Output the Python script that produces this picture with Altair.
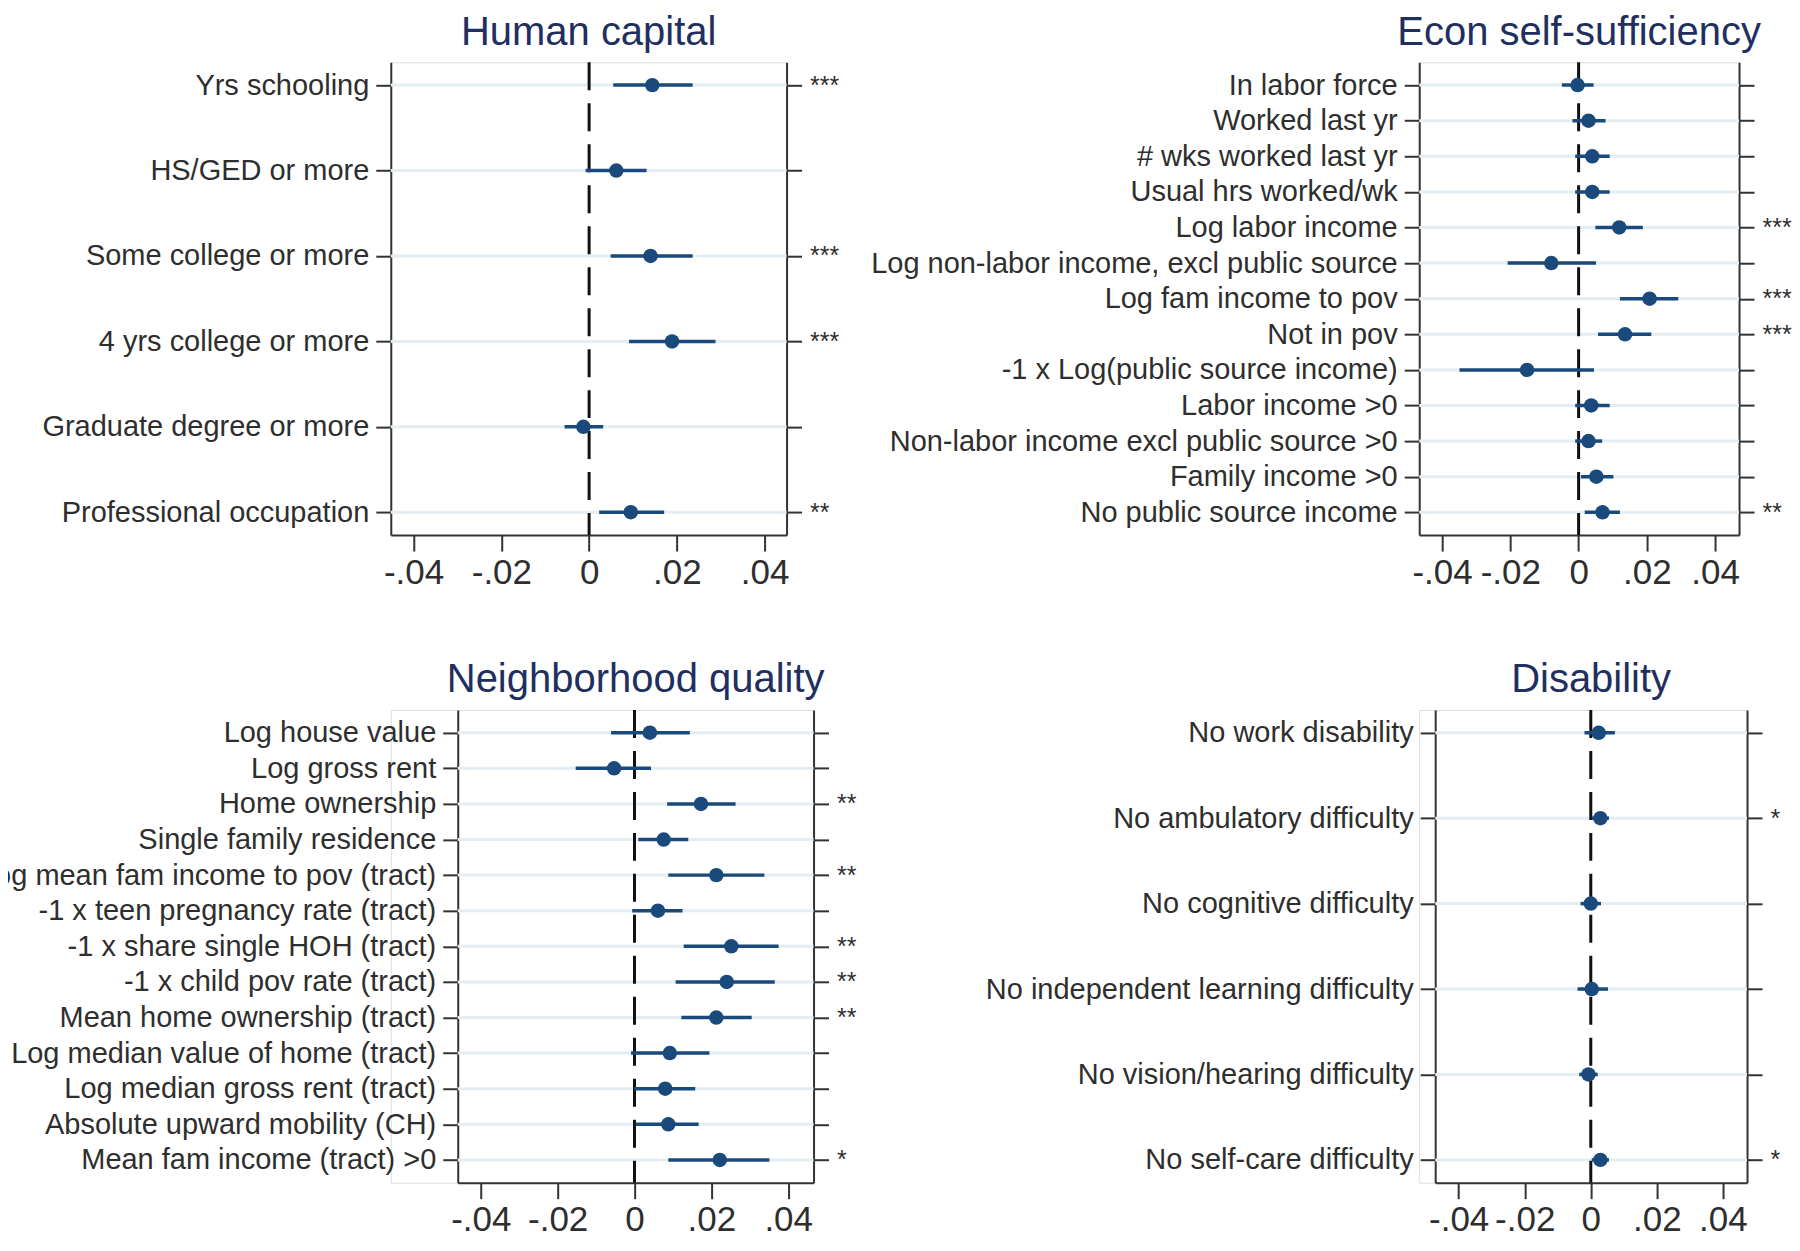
import json
import altair as alt
import pandas as pd

FONT = "Liberation Sans, Arial, Helvetica, sans-serif"
NAVY = "#1a4a7c"
TITLE_COLOR = "#1f2f5f"
TEXT = "#2e2e2e"
FRAME = "#333333"
GRID = "#e4edf1"

# ---------------- data ----------------
hc_labels = ["Yrs schooling", "HS/GED or more", "Some college or more",
             "4 yrs college or more", "Graduate degree or more", "Professional occupation"]
hc_est = [0.0144, 0.0062, 0.0140, 0.0189, -0.0013, 0.0095]
hc_lo = [0.0055, -0.0008, 0.0049, 0.0091, -0.0056, 0.0023]
hc_hi = [0.0236, 0.0131, 0.0236, 0.0288, 0.0032, 0.0171]
hc_stars = ["***", "", "***", "***", "", "**"]

ec_labels = ["In labor force", "Worked last yr", "# wks worked last yr", "Usual hrs worked/wk",
             "Log labor income", "Log non-labor income, excl public source", "Log fam income to pov",
             "Not in pov", "-1 x Log(public source income)", "Labor income >0",
             "Non-labor income excl public source >0", "Family income >0", "No public source income"]
ec_est = [-0.0003, 0.0029, 0.0040, 0.0040, 0.0119, -0.0080, 0.0208, 0.0136, -0.0151, 0.0037, 0.0029, 0.0052, 0.0070]
ec_lo = [-0.0049, -0.0018, -0.0010, -0.0010, 0.0049, -0.0208, 0.0121, 0.0057, -0.0349, -0.0010, -0.0010, 0.0007, 0.0018]
ec_hi = [0.0044, 0.0079, 0.0091, 0.0091, 0.0188, 0.0051, 0.0292, 0.0213, 0.0045, 0.0091, 0.0069, 0.0102, 0.0121]
ec_stars = ["", "", "", "", "***", "", "***", "***", "", "", "", "", "**"]

nq_labels = ["Log house value", "Log gross rent", "Home ownership", "Single family residence",
             "Log mean fam income to pov (tract)", "-1 x teen pregnancy rate (tract)",
             "-1 x share single HOH (tract)", "-1 x child pov rate (tract)", "Mean home ownership (tract)",
             "Log median value of home (tract)", "Log median gross rent (tract)",
             "Absolute upward mobility (CH)", "Mean fam income (tract) >0"]
nq_est = [0.0040, -0.0053, 0.0173, 0.0076, 0.0213, 0.0061, 0.0252, 0.0240, 0.0213, 0.0092, 0.0080, 0.0088, 0.0222]
nq_lo = [-0.0061, -0.0153, 0.0085, 0.0010, 0.0088, -0.0006, 0.0128, 0.0107, 0.0122, -0.0009, -0.0001, 0.0003, 0.0088]
nq_hi = [0.0144, 0.0043, 0.0263, 0.0140, 0.0338, 0.0125, 0.0375, 0.0365, 0.0305, 0.0195, 0.0158, 0.0167, 0.0351]
nq_stars = ["", "", "**", "", "**", "", "**", "**", "**", "", "", "", "*"]

ds_labels = ["No work disability", "No ambulatory difficulty", "No cognitive difficulty",
             "No independent learning difficulty", "No vision/hearing difficulty", "No self-care difficulty"]
ds_est = [0.0024, 0.0029, 0.0000, 0.0003, -0.0007, 0.0029]
ds_lo = [-0.0019, 0.0003, -0.0031, -0.0040, -0.0035, 0.0003]
ds_hi = [0.0073, 0.0055, 0.0031, 0.0052, 0.0021, 0.0055]
ds_stars = ["", "*", "", "", "", "*"]

x_ticks = [-0.04, -0.02, 0, 0.02, 0.04]
zero_ref = [0.0]

XLABEL = ("datum.value == 0 ? '0' : (datum.value < 0 ? '-' : '') + "
          "replace(format(abs(datum.value), '.2f'), '0.', '.')")


def panel(title, labels, est, lo, hi, stars, xdom, pw, height, ypad, inset):
    df = pd.DataFrame({"label": labels, "est": est, "lo": lo, "hi": hi})
    star_map = json.dumps(dict(zip(labels, stars)))
    xscale = alt.Scale(domain=xdom, range=[inset, inset + pw], nice=False, zero=False)
    yscale = alt.Scale(type="point", domain=labels, padding=ypad)
    xaxis = alt.Axis(title=None, values=x_ticks, grid=False, labelExpr=XLABEL,
                     tickSize=16, tickWidth=2, tickColor=FRAME, domainColor=FRAME, domainWidth=2,
                     labelFont=FONT, labelFontSize=35, labelColor=TEXT, labelPadding=4,
                     labelFlush=False, labelOverlap=False)
    yleft_kw = dict(orient="left", title=None, grid=False,
                    tickSize=15, tickWidth=2, tickColor=FRAME, domainColor=FRAME, domainWidth=2,
                    labelFont=FONT, labelFontSize=29, labelColor=TEXT, labelPadding=7,
                    labelLimit=1000)
    if inset:
        yleft_kw["offset"] = -inset
    yleft = alt.Axis(**yleft_kw)
    yright = alt.Axis(orient="right", title=None, grid=False,
                      labelExpr=f"{star_map}[datum.value]",
                      tickSize=15, tickWidth=2, tickColor=FRAME, domainColor=FRAME, domainWidth=2,
                      labelFont=FONT, labelFontSize=25, labelColor=TEXT, labelPadding=8,
                      labelLimit=1000)

    base = alt.Chart(df)
    grid = base.mark_rule(color=GRID, strokeWidth=3).encode(
        x=alt.XDatum(xdom[0], scale=xscale, axis=xaxis),
        x2=alt.X2Datum(xdom[1]),
        y=alt.Y("label:N", scale=yscale, axis=None),
    )
    zero = alt.Chart(pd.DataFrame({"ref": zero_ref})).mark_rule(
        color="#111111", strokeWidth=3, strokeDash=[28, 13]
    ).encode(x=alt.X("ref:Q", scale=xscale, axis=xaxis))
    ci = base.mark_rule(color=NAVY, strokeWidth=3.5).encode(
        x=alt.X("lo:Q", scale=xscale, axis=xaxis),
        x2="hi:Q",
        y=alt.Y("label:N", scale=yscale, axis=yleft),
    )
    pts = base.mark_circle(color=NAVY, size=210, opacity=1).encode(
        x=alt.X("est:Q", scale=xscale, axis=xaxis),
        y=alt.Y("label:N", scale=yscale, axis=yright),
    )
    return alt.layer(grid, zero, ci, pts).resolve_axis(y="independent").properties(
        width=inset + pw, height=height,
        title=alt.TitleParams(text=title, font=FONT, fontSize=40, fontWeight="normal",
                              color=TITLE_COLOR, anchor="middle", frame="group",
                              baseline="alphabetic", offset=-24, dx=inset / 2),
    )


H = 473
p1 = panel("Human capital", hc_labels, hc_est, hc_lo, hc_hi, hc_stars,
           [-0.0452, 0.0450], 396, H, 0.267, 0)
p2 = panel("Econ self-sufficiency", ec_labels, ec_est, ec_lo, ec_hi, ec_stars,
           [-0.0467, 0.0470], 320, H, 0.64, 0)
p3 = panel("Neighborhood quality", nq_labels, nq_est, nq_lo, nq_hi, nq_stars,
           [-0.0460, 0.0466], 356, H, 0.64, 67)
p4 = panel("Disability", ds_labels, ds_est, ds_lo, ds_hi, ds_stars,
           [-0.0471, 0.0473], 312, H, 0.267, 16)

chart = alt.concat(
    p1, p2, p3, p4,
    columns=2,
    spacing={"row": 175, "column": 606},
    bounds="flush",
).properties(
    padding={"left": -31, "top": 4, "right": 0, "bottom": 0}
).configure_view(stroke=None).configure(font=FONT)

chart.save("out.html", embed_options={"renderer": "svg", "actions": False})
